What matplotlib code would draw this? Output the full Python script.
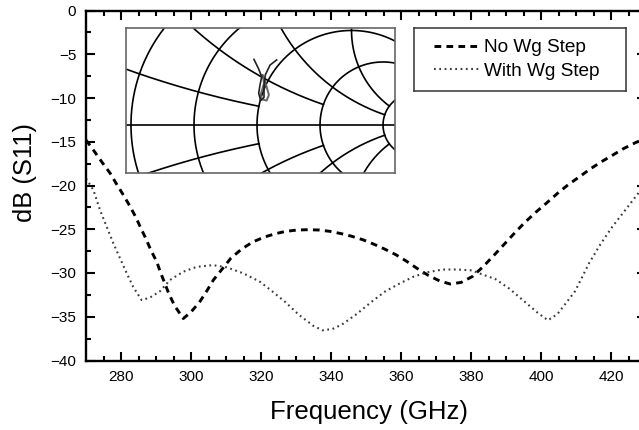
import numpy as np
import matplotlib
matplotlib.use('Agg')
import matplotlib.pyplot as plt

plt.rcParams['font.family'] = ['Liberation Sans', 'DejaVu Sans']

# S11 curves
freq_no_step = [270, 272.1, 274.5, 276.9, 278.6, 280.7, 282.6, 284.2, 285.7, 287.2, 288.6, 290.2, 291.3, 292.6,
                293.7, 295.4, 297.8, 299.9, 302.4, 304.5, 306.4, 308.8, 311.4, 314.5, 317.6, 320.9, 324.2,
                327.1, 330.3, 333.4, 336.6, 339.7, 342.9, 345.9, 349.1, 352.2, 355.3, 358.5, 361.6, 364.7,
                367.8, 371, 374.1, 377.2, 380.4, 383.4, 386.5, 389.3, 392.3, 395.3, 398.5, 401.6, 404.7,
                407.8, 411, 414.1, 417.2, 420.4, 423.5, 427, 430]
s11_no_step = [-14.8, -15.94, -17.3, -18.6, -19.75, -21.1, -22.4, -23.6, -24.9, -26.15, -27.45, -28.7, -29.96, -31.26,
               -32.4, -33.8, -35.2, -34.5, -33.35, -32.06, -30.8, -29.6, -28.3, -27.26, -26.46, -25.9, -25.5,
               -25.24, -25.09, -25.05, -25.09, -25.24, -25.5, -25.8, -26.2, -26.7, -27.26, -27.9, -28.66, -29.5,
               -30.27, -30.9, -31.26, -31.07, -30.4, -29.3, -28.0, -26.8, -25.5, -24.25, -23.06, -22, -20.9,
               -19.9, -19, -18.1, -17.3, -16.55, -15.8, -15.1, -14.6]

freq_with_step = [270, 272.1, 274, 275.9, 277.8, 279.7, 281.6, 283.5, 285.9, 288.3, 291.1, 294, 297.8, 301.6, 306.2,
                  310.2, 314.9, 319.7, 322.6, 326.9, 330.9, 335, 337.6, 340.4, 343.1, 347.3, 351.4, 355.5,
                  359.6, 363.7, 367.8, 371.9, 376, 380.2, 382.8, 387, 391, 395.1, 399.2, 402, 404.7, 407.2,
                  409.7, 411.6, 413.7, 417, 420.4, 423.7, 427.2, 430]
s11_with_step = [-19.2, -20.5, -22.8, -24.7, -26.6, -28.3, -30, -31.6, -33.1, -32.8, -32.1, -30.8, -29.85, -29.3, -29.1,
                 -29.35, -30.03, -31, -31.9, -33.3, -34.8, -36.05, -36.55, -36.4, -35.9, -34.7, -33.35, -32.1,
                 -31.2, -30.4, -29.9, -29.6, -29.6, -29.7, -30.1, -30.7, -31.8, -33.2, -34.6, -35.4, -34.7, -33.4,
                 -32.1, -30.6, -28.9, -26.7, -24.7, -23, -21.2, -19.7]

# Smith chart grid of the inset: (value, limit of the other coordinate)
resistance_values = [0.2, 0.5, 1, 2, 5]
reactance_values = [0.2, 0.5, 1, 2]
reactance_rmax = [1, 2, 5, 5]

# traces in the inset, reflection coefficient re/im
trace_black_re = [-.016, .007, .025, .016, .009, .019, .037, .037, .044, .069, .104]
trace_black_im = [.347, .300, .256, .212, .168, .129, .146, .203, .265, .317, .344]
trace_gray_re = [.025, .051, .063, .048, .030, .037, .019, .025]
trace_gray_im = [.136, .129, .159, .212, .265, .220, .159, .136]

W, H = 639, 430


def px_box(x0, y0, x1, y1):
    # pixel box (y from the top) to figure fractions
    return [x0 / W, 1 - y1 / H, (x1 - x0) / W, (y1 - y0) / H]


def gamma(z):
    return (z - 1) / (z + 1)


fig = plt.figure(figsize=(W / 100, H / 100), dpi=100)
ax = fig.add_axes(px_box(86, 10.5, 646, 360.5))

line_no, = ax.plot(freq_no_step, s11_no_step, color='black', lw=2.1, label='No Wg Step',
                   linestyle=(0, (2.3, 1.8)))
line_with, = ax.plot(freq_with_step, s11_with_step, color='#3a3a3a', lw=1.5, label='With Wg Step',
                     linestyle=(0, (0.85, 1.7)))

ax.set_xlim(270, 430)
ax.set_ylim(-40, 0)
ax.set_xticks(np.arange(280, 430, 20))
ax.set_xticks(np.arange(275, 430, 5), minor=True)
ax.set_yticks(np.arange(-40, 1, 5))
ax.set_yticks(np.arange(-37.5, 0, 5), minor=True)
ax.tick_params(which='major', direction='in', length=6.5, width=1.5, top=True, right=True, labelsize=11, pad=7)
ax.tick_params(which='minor', direction='in', length=3.6, width=1.5, top=True, right=True)
for s in ax.spines.values():
    s.set_linewidth(1.7)

fig.text(368.5 / W, 1 - 412 / H, 'Frequency (GHz)', fontsize=18.6, ha='center', va='center')
fig.text(25 / W, 1 - 172 / H, 'dB (S11)', fontsize=18.4, rotation=90, ha='center', va='center')

# Smith chart inset
inset = fig.add_axes(px_box(126, 28, 395, 173))
inset.set_xlim(-0.693, 0.730)
inset.set_ylim(-0.254, 0.513)
inset.set_xticks([])
inset.set_yticks([])
for s in inset.spines.values():
    s.set_linewidth(1.2)
    s.set_color('#666666')

sweep = np.tan(np.linspace(-1.5665, 1.5665, 800))
for r in resistance_values:
    g = gamma(r + 1j * sweep)
    inset.plot(g.real, g.imag, color='black', lw=1.2)
for x, rmax in zip(reactance_values, reactance_rmax):
    g = gamma(np.linspace(0, rmax, 300) + 1j * x)
    inset.plot(g.real, g.imag, color='black', lw=1.2)
    inset.plot(g.real, -g.imag, color='black', lw=1.2)
inset.axhline(0, color='black', lw=1.2)
inset.plot(trace_gray_re, trace_gray_im, color='#666666', lw=1.4)
inset.plot(trace_black_re, trace_black_im, color='#222222', lw=1.2)

# legend box
box = fig.add_axes(px_box(414, 28, 626, 91))
box.set_xticks([])
box.set_yticks([])
for s in box.spines.values():
    s.set_linewidth(1.1)
    s.set_color('#333333')
box.legend(handles=[line_no, line_with], loc='center', bbox_to_anchor=(0.485, 0.5), frameon=False, fontsize=13.7,
           handlelength=2.4, handletextpad=0.25, labelspacing=0.35, borderpad=0, borderaxespad=0)

fig.savefig('out.png', dpi=100)
